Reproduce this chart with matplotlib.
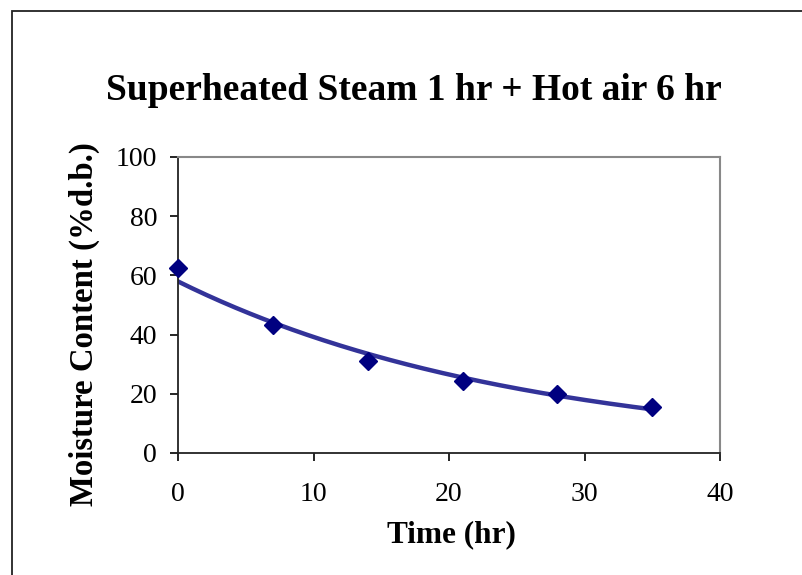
import numpy as np
import matplotlib.pyplot as plt
from matplotlib.patches import Rectangle

# Datos
time_hr = [0, 7, 14, 21, 28, 35]
moisture = [62.5, 43.3, 31.0, 24.3, 19.9, 15.4]

x_ticks = [0, 10, 20, 30, 40]
y_ticks = [0, 20, 40, 60, 80, 100]

plt.rcParams['font.family'] = ['Liberation Serif', 'DejaVu Serif']

fig = plt.figure(figsize=(8.02, 5.75), dpi=100)
ax = fig.add_axes([178 / 802, 1 - 453 / 575, (720 - 178) / 802, (453 - 157) / 575])

# borde del grafico (estilo Excel)
fig.patches.append(Rectangle((12 / 802, -0.1), 2, 1.1 - 11 / 575, transform=fig.transFigure,
                             fill=False, edgecolor='#222222', linewidth=1.3))

# linea de tendencia exponencial
b, a = np.polyfit(time_hr, np.log(moisture), 1)
xs = np.linspace(0, 35, 200)
ax.plot(xs, np.exp(a) * np.exp(b * xs), color='#333399', linewidth=3.2, zorder=2)

ax.plot(time_hr, moisture, linestyle='none', marker='D', markersize=9,
        color='#000080', zorder=3, clip_on=False)

ax.set_xlim(0, 40)
ax.set_ylim(0, 100)
ax.set_xticks(x_ticks)
ax.set_yticks(y_ticks)
ax.tick_params(direction='out', length=6, width=1.2, labelsize=20, colors='black')
ax.tick_params(axis='x', pad=15)
ax.tick_params(axis='y', pad=9)

for s in ['left', 'bottom']:
    ax.spines[s].set_color('#222222')
    ax.spines[s].set_linewidth(1.3)
for s in ['top', 'right']:
    ax.spines[s].set_color('#888888')
    ax.spines[s].set_linewidth(1.5)

fig.text(451 / 802, 1 - 535 / 575, 'Time (hr)', ha='center', va='center',
         fontsize=22.5, fontweight='bold')
fig.text(84 / 802, 1 - 324 / 575, 'Moisture Content (%d.b.)', ha='center', va='center',
         rotation=90, fontsize=23.6, fontweight='bold')
fig.text(414 / 802, 1 - 90 / 575, 'Superheated Steam 1 hr + Hot air 6 hr',
         ha='center', va='center', fontsize=27, fontweight='bold')

fig.savefig('out.png', dpi=100)
